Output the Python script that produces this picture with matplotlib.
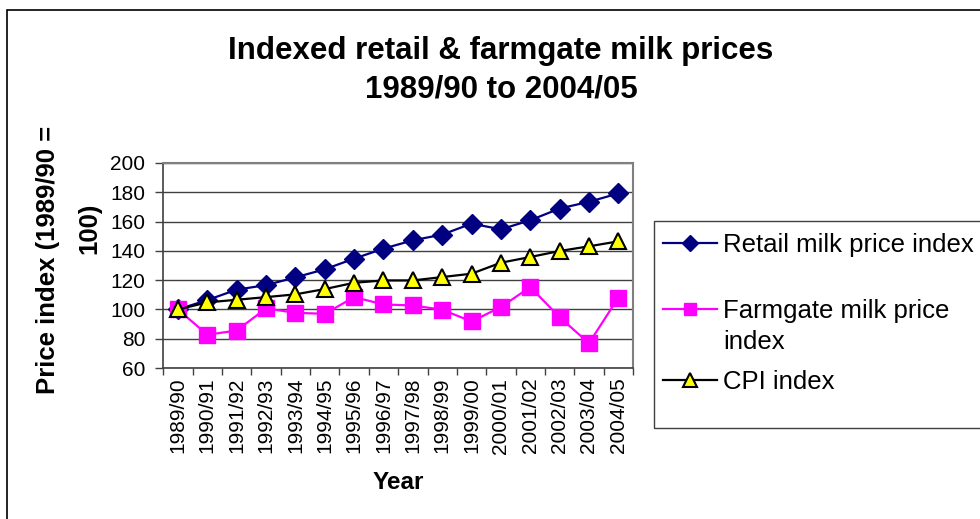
import numpy as np
import matplotlib
matplotlib.use('Agg')
import matplotlib.pyplot as plt
from matplotlib.patches import Rectangle
from matplotlib.lines import Line2D

plt.rcParams['font.family'] = ['Liberation Sans', 'DejaVu Sans']

years = ['1989/90', '1990/91', '1991/92', '1992/93', '1993/94', '1994/95',
         '1995/96', '1996/97', '1997/98', '1998/99', '1999/00', '2000/01',
         '2001/02', '2002/03', '2003/04', '2004/05']
retail = [100, 106.4, 113.5, 116.6, 121.9, 127.4, 134.7, 141.5,
          147.2, 151.1, 158.6, 154.7, 160.9, 168.9, 173.5, 179.2]
farmgate = [100, 82.7, 85.6, 100.7, 97.7, 97.0, 108.4, 103.4,
            102.7, 99.8, 91.8, 101.6, 115.3, 94.7, 76.9, 108.0]
cpi = [100, 104.8, 106.6, 108.4, 110.3, 113.9, 118.2, 119.8,
       119.8, 122.1, 124.4, 131.9, 135.8, 139.9, 143.1, 146.5]

W, H = 980, 519
fig = plt.figure(figsize=(W / 100, H / 100), dpi=100)


def fx(px):
    return px / W


def fy(py):
    return 1 - py / H


# outer chart frame
fig.patches.append(Rectangle((fx(7), -0.1), 1.2, fy(10) + 0.1,
                             transform=fig.transFigure, fill=False,
                             edgecolor='black', linewidth=1.2))

ax = fig.add_axes([fx(163.3), fy(368), fx(633 - 163.3), (368 - 163) / H])

styles = {
    'retail': dict(color='#000080', linewidth=1.6, marker='D', markersize=10,
                   markerfacecolor='#000080', markeredgecolor='#000080'),
    'farmgate': dict(color='#FF00FF', linewidth=1.6, marker='s', markersize=11,
                     markerfacecolor='#FF00FF', markeredgecolor='#FF00FF'),
    'cpi': dict(color='black', linewidth=1.6, marker='^', markersize=12,
                markerfacecolor='#FFFF00', markeredgecolor='black',
                markeredgewidth=1.5),
}

x = np.arange(len(years))
ax.plot(x, retail, zorder=3, **styles['retail'])
ax.plot(x, farmgate, zorder=3, **styles['farmgate'])
ax.plot(x, cpi, zorder=4, **styles['cpi'])

ax.set_xlim(-0.5, len(years) - 0.5)
ax.set_ylim(60, 200)
ax.set_yticks(np.arange(60, 201, 20))
ax.yaxis.grid(True, color='#404040', linewidth=1)
ax.set_axisbelow(True)

ax.set_xticks(x)
ax.set_xticklabels(years, rotation=90, fontsize=15)
ax.set_xticks(np.arange(-0.5, len(years), 1), minor=True)
ax.tick_params(axis='x', which='major', length=0, pad=7)
ax.tick_params(axis='x', which='minor', length=5, width=1, color='#404040')
ax.tick_params(axis='y', length=6, width=1, color='#404040', labelsize=15, pad=7)

for s in ['top', 'right']:
    ax.spines[s].set_color('#808080')
    ax.spines[s].set_linewidth(1.5)
for s in ['left', 'bottom']:
    ax.spines[s].set_color('#404040')
    ax.spines[s].set_linewidth(1.2)

# axis titles
fig.text(fx(398), fy(489), 'Year', ha='center', va='baseline',
         fontsize=17.5, fontweight='bold')
fig.text(fx(48), fy(260), 'Price index (1989/90 =', rotation=90,
         ha='center', va='center', fontsize=18.5, fontweight='bold')
fig.text(fx(89), fy(228), '100)', rotation=90,
         ha='center', va='center', fontsize=18.5, fontweight='bold')

# chart title
fig.text(fx(501), fy(59), 'Indexed retail & farmgate milk prices',
         ha='center', va='baseline', fontsize=22.5, fontweight='bold')
fig.text(fx(501), fy(98), '1989/90 to 2004/05',
         ha='center', va='baseline', fontsize=22.5, fontweight='bold')

# legend box, cut off by the right edge like the original
fig.patches.append(Rectangle((fx(654), fy(428)), 0.5, (428 - 221) / H,
                             transform=fig.transFigure, fill=False,
                             edgecolor='#404040', linewidth=1))
legend_rows = [
    ('retail', ['Retail milk price index'], 243),
    ('farmgate', ['Farmgate milk price', 'index'], 309),
    ('cpi', ['CPI index'], 380),
]
for key, lines, ypix in legend_rows:
    st = dict(styles[key])
    fig.add_artist(Line2D([fx(663), fx(717)], [fy(ypix), fy(ypix)],
                          transform=fig.transFigure, markevery=[], **st))
    mk = dict(st)
    mk.pop('linewidth')
    mk.pop('color')
    mk['markersize'] = st['markersize'] * 0.8
    fig.add_artist(Line2D([fx(690)], [fy(ypix)], transform=fig.transFigure,
                          linestyle='none', **mk))
    for k, txt in enumerate(lines):
        fig.text(fx(723), fy(ypix + 9 + 31 * k), txt, ha='left',
                 va='baseline', fontsize=18.5)

fig.savefig('out.png', dpi=100)
